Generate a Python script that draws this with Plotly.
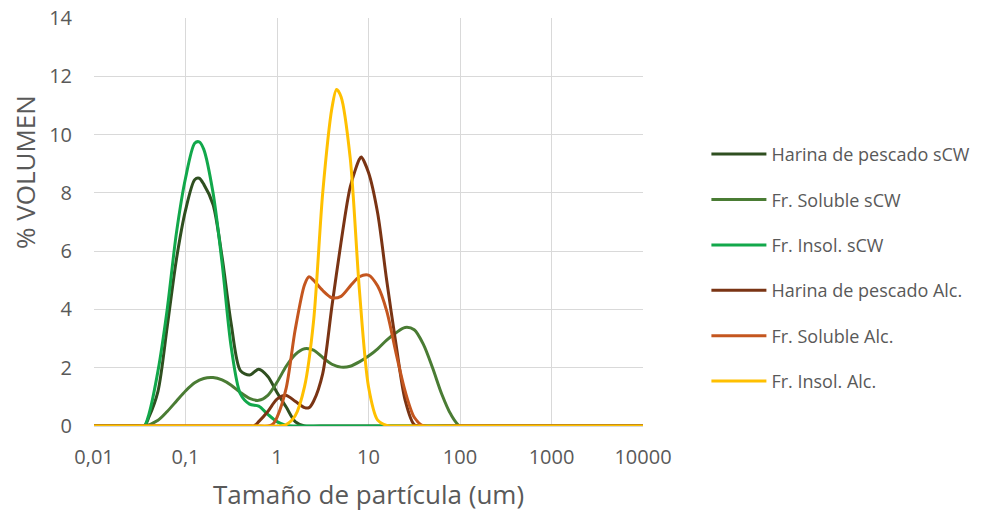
import plotly.graph_objects as go

# Series data: particle size (um) and % volume
hp_scw_x = [0.01, 0.02, 0.03, 0.0355, 0.0398, 0.0501, 0.0631, 0.0794, 0.1, 0.126, 0.141, 0.158, 0.2, 0.251,
            0.316, 0.398, 0.501, 0.631, 0.794, 1.0, 1.26, 1.58, 2.0, 3.0, 10000]
hp_scw_y = [0, 0, 0, 0, 0.3, 1.2, 3.4, 5.7, 7.4, 8.45, 8.5, 8.3, 7.6, 5.8,
            3.5, 1.9, 1.75, 1.95, 1.7, 1.15, 0.65, 0.15, 0, 0, 0]

sol_scw_x = [0.01, 0.02, 0.03, 0.0355, 0.0501, 0.0631, 0.0794, 0.1, 0.126, 0.158, 0.2, 0.251, 0.316, 0.398,
             0.501, 0.631, 0.794, 1.0, 1.26, 1.58, 2.0, 2.51, 3.16, 3.98, 5.01, 6.31, 7.94, 10.0,
             12.6, 15.8, 20.0, 25.1, 31.6, 39.8, 50.1, 63.1, 79.4, 100, 200, 10000]
sol_scw_y = [0, 0, 0, 0, 0.2, 0.5, 0.85, 1.2, 1.48, 1.63, 1.66, 1.58, 1.4, 1.15,
             0.95, 0.88, 1.05, 1.5, 2.05, 2.45, 2.65, 2.6, 2.35, 2.12, 2.02, 2.05, 2.2, 2.4,
             2.65, 2.95, 3.2, 3.38, 3.3, 2.8, 2.0, 1.1, 0.4, 0, 0, 0]

is_scw_x = [0.01, 0.02, 0.03, 0.0355, 0.0398, 0.0501, 0.0631, 0.0794, 0.1, 0.126, 0.141, 0.158, 0.2, 0.251,
            0.316, 0.398, 0.501, 0.631, 0.794, 1.0, 1.26, 1.58, 3.0, 10000]
is_scw_y = [0, 0, 0, 0, 0.4, 1.9, 4.0, 6.6, 8.5, 9.7, 9.75, 9.5, 8.0, 5.6,
            2.7, 1.1, 0.75, 0.68, 0.4, 0.15, 0.02, 0, 0, 0]

hp_alc_x = [0.01, 0.3, 0.5, 0.562, 0.631, 0.794, 1.0, 1.26, 1.58, 2.0, 2.24, 2.51, 3.16, 3.98, 5.01,
            6.31, 7.94, 8.32, 10.0, 12.6, 15.8, 20.0, 25.1, 31.6, 39.8, 100, 10000]
hp_alc_y = [0, 0, 0, 0, 0.15, 0.5, 0.92, 1.05, 0.85, 0.63, 0.63, 0.85, 1.8, 4.1, 6.3,
            8.2, 9.15, 9.23, 8.7, 7.3, 5.0, 2.8, 0.9, 0.05, 0, 0, 0]

sol_alc_x = [0.01, 0.3, 0.6, 0.794, 0.891, 1.0, 1.26, 1.58, 2.0, 2.24, 2.51, 3.16, 3.98, 5.01,
             6.31, 7.94, 10.0, 12.6, 15.8, 20.0, 25.1, 31.6, 39.8, 100, 10000]
sol_alc_y = [0, 0, 0, 0, 0.05, 0.3, 1.3, 3.3, 4.85, 5.12, 5.0, 4.65, 4.4, 4.45,
             4.8, 5.12, 5.18, 4.8, 3.95, 2.5, 1.2, 0.3, 0, 0, 0]

is_alc_x = [0.01, 0.3, 0.6, 1.0, 1.26, 1.58, 2.0, 2.51, 3.16, 3.98, 4.47, 5.01, 6.31, 7.94,
            10.0, 12.6, 15.8, 17.8, 30, 10000]
is_alc_y = [0, 0, 0, 0, 0.05, 0.35, 1.35, 3.6, 8.0, 10.9, 11.55, 11.3, 9.2, 4.7,
            1.35, 0.2, 0.02, 0, 0, 0]

series_names = ["Harina de pescado sCW", "Fr. Soluble sCW", "Fr. Insol. sCW",
                "Harina de pescado Alc.", "Fr. Soluble Alc.", "Fr. Insol. Alc."]
series_colors = ["#2F4F20", "#4A7C34", "#12A84B", "#7A3414", "#C4561F", "#FFC000"]
series_x = [hp_scw_x, sol_scw_x, is_scw_x, hp_alc_x, sol_alc_x, is_alc_x]
series_y = [hp_scw_y, sol_scw_y, is_scw_y, hp_alc_y, sol_alc_y, is_alc_y]

x_tickvals = [0.01, 0.1, 1, 10, 100, 1000, 10000]
x_ticktext = ["0,01", "0,1", "1", "10", "100", "1000", "10000"]
y_tickvals = [0, 2, 4, 6, 8, 10, 12, 14]

FONT = "Open Sans"
GRAY = "#595959"

fig = go.Figure()
for i, (name, color, xs, ys) in enumerate(zip(series_names, series_colors, series_x, series_y)):
    fig.add_trace(go.Scatter(
        x=xs, y=ys, name=name, mode="lines",
        line=dict(color=color, width=3, shape="spline", smoothing=0.8),
        legendgroup=f"g{i}",
    ))

fig.update_layout(
    width=1003, height=513,
    margin=dict(l=94, r=360, t=18, b=87),
    paper_bgcolor="white", plot_bgcolor="white",
    font=dict(family=FONT, color=GRAY, size=20),
    showlegend=True,
    legend=dict(
        x=1.1155, y=0.711, xanchor="left", yanchor="top",
        font=dict(family=FONT, size=18, color=GRAY),
        tracegroupgap=19, itemwidth=55,
        bgcolor="rgba(0,0,0,0)",
    ),
    xaxis=dict(
        type="log", range=[-2, 4], automargin=False,
        tickvals=x_tickvals, ticktext=x_ticktext,
        showgrid=True, gridcolor="#D9D9D9", gridwidth=1,
        showline=True, linecolor="#D9D9D9", linewidth=1,
        zeroline=False, ticks="",
        tickfont=dict(size=20, color=GRAY),
        ticklabelstandoff=13, ticklabeloverflow="allow",
        title=dict(text="Tamaño de partícula (um)", font=dict(size=26, color=GRAY), standoff=16),
    ),
    yaxis=dict(
        range=[0, 14], tickvals=y_tickvals, automargin=False,
        showgrid=True, gridcolor="#D9D9D9", gridwidth=1,
        showline=False, zeroline=False, ticks="",
        tickfont=dict(size=20, color=GRAY),
        ticklabelstandoff=21, ticklabeloverflow="allow",
    ),
    annotations=[dict(
        text="% VOLUMEN", xref="paper", yref="paper",
        x=-0.1257, y=0.6225, xanchor="center", yanchor="middle",
        textangle=-90, showarrow=False,
        font=dict(family=FONT, size=26, color=GRAY),
    )],
)

fig.write_html("out.html", config={"displayModeBar": False},
               post_script="document.body.style.margin='0';")
